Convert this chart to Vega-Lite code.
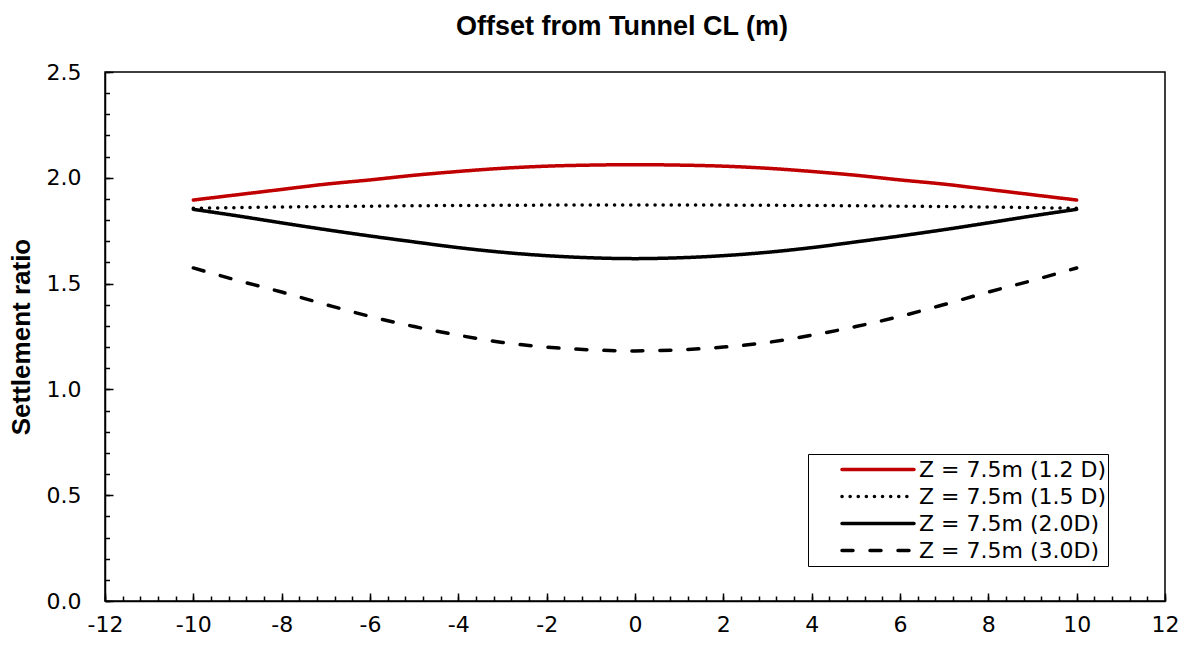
{
  "$schema": "https://vega.github.io/schema/vega-lite/v6.json",
  "width": 1060,
  "height": 529,
  "autosize": {"type": "none"},
  "padding": {"left": 105, "top": 72, "right": 24, "bottom": 45},
  "background": "white",
  "config": {"view": {"stroke": "black", "strokeWidth": 1.5}, "font": "Liberation Sans"},
  "title": {"text": "Offset from Tunnel CL (m)", "font": "Liberation Sans", "fontSize": 27, "fontWeight": "bold", "color": "black", "anchor": "middle", "frame": "group", "dx": -13, "baseline": "alphabetic", "offset": -1},
  "data": {"values": [
    {"series": "Z = 7.5m (1.2 D)", "x": -10, "y": 1.895},
    {"series": "Z = 7.5m (1.2 D)", "x": -9, "y": 1.920},
    {"series": "Z = 7.5m (1.2 D)", "x": -8, "y": 1.945},
    {"series": "Z = 7.5m (1.2 D)", "x": -7, "y": 1.970},
    {"series": "Z = 7.5m (1.2 D)", "x": -6, "y": 1.990},
    {"series": "Z = 7.5m (1.2 D)", "x": -5, "y": 2.012},
    {"series": "Z = 7.5m (1.2 D)", "x": -4, "y": 2.030},
    {"series": "Z = 7.5m (1.2 D)", "x": -3, "y": 2.045},
    {"series": "Z = 7.5m (1.2 D)", "x": -2, "y": 2.055},
    {"series": "Z = 7.5m (1.2 D)", "x": -1, "y": 2.060},
    {"series": "Z = 7.5m (1.2 D)", "x": 0, "y": 2.062},
    {"series": "Z = 7.5m (1.2 D)", "x": 1, "y": 2.060},
    {"series": "Z = 7.5m (1.2 D)", "x": 2, "y": 2.055},
    {"series": "Z = 7.5m (1.2 D)", "x": 3, "y": 2.045},
    {"series": "Z = 7.5m (1.2 D)", "x": 4, "y": 2.030},
    {"series": "Z = 7.5m (1.2 D)", "x": 5, "y": 2.012},
    {"series": "Z = 7.5m (1.2 D)", "x": 6, "y": 1.990},
    {"series": "Z = 7.5m (1.2 D)", "x": 7, "y": 1.970},
    {"series": "Z = 7.5m (1.2 D)", "x": 8, "y": 1.945},
    {"series": "Z = 7.5m (1.2 D)", "x": 9, "y": 1.920},
    {"series": "Z = 7.5m (1.2 D)", "x": 10, "y": 1.895},
    {"series": "Z = 7.5m (1.5 D)", "x": -10, "y": 1.856},
    {"series": "Z = 7.5m (1.5 D)", "x": -9, "y": 1.859},
    {"series": "Z = 7.5m (1.5 D)", "x": -8, "y": 1.862},
    {"series": "Z = 7.5m (1.5 D)", "x": -7, "y": 1.864},
    {"series": "Z = 7.5m (1.5 D)", "x": -6, "y": 1.866},
    {"series": "Z = 7.5m (1.5 D)", "x": -5, "y": 1.868},
    {"series": "Z = 7.5m (1.5 D)", "x": -4, "y": 1.869},
    {"series": "Z = 7.5m (1.5 D)", "x": -3, "y": 1.870},
    {"series": "Z = 7.5m (1.5 D)", "x": -2, "y": 1.871},
    {"series": "Z = 7.5m (1.5 D)", "x": -1, "y": 1.872},
    {"series": "Z = 7.5m (1.5 D)", "x": 0, "y": 1.872},
    {"series": "Z = 7.5m (1.5 D)", "x": 1, "y": 1.872},
    {"series": "Z = 7.5m (1.5 D)", "x": 2, "y": 1.871},
    {"series": "Z = 7.5m (1.5 D)", "x": 3, "y": 1.870},
    {"series": "Z = 7.5m (1.5 D)", "x": 4, "y": 1.869},
    {"series": "Z = 7.5m (1.5 D)", "x": 5, "y": 1.868},
    {"series": "Z = 7.5m (1.5 D)", "x": 6, "y": 1.866},
    {"series": "Z = 7.5m (1.5 D)", "x": 7, "y": 1.864},
    {"series": "Z = 7.5m (1.5 D)", "x": 8, "y": 1.862},
    {"series": "Z = 7.5m (1.5 D)", "x": 9, "y": 1.859},
    {"series": "Z = 7.5m (1.5 D)", "x": 10, "y": 1.856},
    {"series": "Z = 7.5m (2.0D)", "x": -10, "y": 1.851},
    {"series": "Z = 7.5m (2.0D)", "x": -9, "y": 1.820},
    {"series": "Z = 7.5m (2.0D)", "x": -8, "y": 1.787},
    {"series": "Z = 7.5m (2.0D)", "x": -7, "y": 1.755},
    {"series": "Z = 7.5m (2.0D)", "x": -6, "y": 1.725},
    {"series": "Z = 7.5m (2.0D)", "x": -5, "y": 1.697},
    {"series": "Z = 7.5m (2.0D)", "x": -4, "y": 1.670},
    {"series": "Z = 7.5m (2.0D)", "x": -3, "y": 1.648},
    {"series": "Z = 7.5m (2.0D)", "x": -2, "y": 1.632},
    {"series": "Z = 7.5m (2.0D)", "x": -1, "y": 1.622},
    {"series": "Z = 7.5m (2.0D)", "x": 0, "y": 1.618},
    {"series": "Z = 7.5m (2.0D)", "x": 1, "y": 1.622},
    {"series": "Z = 7.5m (2.0D)", "x": 2, "y": 1.632},
    {"series": "Z = 7.5m (2.0D)", "x": 3, "y": 1.648},
    {"series": "Z = 7.5m (2.0D)", "x": 4, "y": 1.670},
    {"series": "Z = 7.5m (2.0D)", "x": 5, "y": 1.697},
    {"series": "Z = 7.5m (2.0D)", "x": 6, "y": 1.725},
    {"series": "Z = 7.5m (2.0D)", "x": 7, "y": 1.755},
    {"series": "Z = 7.5m (2.0D)", "x": 8, "y": 1.787},
    {"series": "Z = 7.5m (2.0D)", "x": 9, "y": 1.820},
    {"series": "Z = 7.5m (2.0D)", "x": 10, "y": 1.851},
    {"series": "Z = 7.5m (3.0D)", "x": -10, "y": 1.574},
    {"series": "Z = 7.5m (3.0D)", "x": -9, "y": 1.515},
    {"series": "Z = 7.5m (3.0D)", "x": -8, "y": 1.460},
    {"series": "Z = 7.5m (3.0D)", "x": -7, "y": 1.401},
    {"series": "Z = 7.5m (3.0D)", "x": -6, "y": 1.345},
    {"series": "Z = 7.5m (3.0D)", "x": -5, "y": 1.297},
    {"series": "Z = 7.5m (3.0D)", "x": -4, "y": 1.256},
    {"series": "Z = 7.5m (3.0D)", "x": -3, "y": 1.222},
    {"series": "Z = 7.5m (3.0D)", "x": -2, "y": 1.200},
    {"series": "Z = 7.5m (3.0D)", "x": -1, "y": 1.187},
    {"series": "Z = 7.5m (3.0D)", "x": 0, "y": 1.182},
    {"series": "Z = 7.5m (3.0D)", "x": 1, "y": 1.187},
    {"series": "Z = 7.5m (3.0D)", "x": 2, "y": 1.200},
    {"series": "Z = 7.5m (3.0D)", "x": 3, "y": 1.222},
    {"series": "Z = 7.5m (3.0D)", "x": 4, "y": 1.256},
    {"series": "Z = 7.5m (3.0D)", "x": 5, "y": 1.297},
    {"series": "Z = 7.5m (3.0D)", "x": 6, "y": 1.345},
    {"series": "Z = 7.5m (3.0D)", "x": 7, "y": 1.401},
    {"series": "Z = 7.5m (3.0D)", "x": 8, "y": 1.460},
    {"series": "Z = 7.5m (3.0D)", "x": 9, "y": 1.515},
    {"series": "Z = 7.5m (3.0D)", "x": 10, "y": 1.574}
  ]},
  "layer": [
    {
      "mark": {"type": "line", "strokeWidth": 3.5, "strokeCap": "round", "interpolate": "monotone"},
      "encoding": {
        "x": {"field": "x", "type": "quantitative",
          "scale": {"domain": [-12, 12], "nice": false, "zero": false},
          "axis": {"orient": "bottom", "values": [-12, -10, -8, -6, -4, -2, 0, 2, 4, 6, 8, 10, 12], "labelExpr": "toString(datum.value)",
            "tickSize": -8, "tickWidth": 1.5, "tickColor": "black", "domainColor": "black", "domainWidth": 1.5,
            "labelFont": "DejaVu Sans", "labelFontSize": 22, "labelColor": "black", "labelPadding": 21,
            "labelFlush": false, "labelOverlap": false, "grid": false, "title": null}},
        "y": {"field": "y", "type": "quantitative",
          "scale": {"domain": [0, 2.5], "nice": false, "zero": false},
          "axis": {"orient": "left", "values": [0, 0.5, 1, 1.5, 2, 2.5], "format": ".1f",
            "tickSize": -8, "tickWidth": 1.5, "tickColor": "black", "domainColor": "black", "domainWidth": 1.5,
            "labelFont": "DejaVu Sans", "labelFontSize": 22, "labelColor": "black", "labelPadding": 32,
            "labelFlush": false, "labelOverlap": false, "grid": false,
            "title": "Settlement ratio", "titleFont": "Liberation Sans", "titleFontSize": 26, "titleFontWeight": "bold", "titleColor": "black", "titlePadding": 12}},
        "color": {"field": "series", "type": "nominal",
          "scale": {"domain": ["Z = 7.5m (1.2 D)", "Z = 7.5m (1.5 D)", "Z = 7.5m (2.0D)", "Z = 7.5m (3.0D)"], "range": ["#C00000", "#000000", "#000000", "#000000"]},
          "legend": {"orient": "none", "legendX": 703, "legendY": 382, "title": null, "strokeColor": "black", "fillColor": "white", "padding": 2,
            "symbolType": "stroke", "symbolSize": 5184, "symbolStrokeWidth": 3.5, "clipHeight": 27, "rowPadding": 0, "symbolOffset": 30,
            "labelFont": "DejaVu Sans", "labelFontSize": 22, "labelColor": "black", "labelOffset": 3, "labelLimit": 400,
            "encode": {"symbols": {"update": {"strokeCap": {"value": "round"}}}, "legend": {"update": {"width": {"value": 334}}}}}},
        "strokeDash": {"field": "series", "type": "nominal",
          "scale": {"domain": ["Z = 7.5m (1.2 D)", "Z = 7.5m (1.5 D)", "Z = 7.5m (2.0D)", "Z = 7.5m (3.0D)"], "range": [[1, 0], [0.1, 8], [1, 0], [11, 17]]},
          "legend": {"orient": "none", "legendX": 703, "legendY": 382, "title": null, "strokeColor": "black", "fillColor": "white", "padding": 2,
            "symbolType": "stroke", "symbolSize": 5184, "symbolStrokeWidth": 3.5, "clipHeight": 27, "rowPadding": 0, "symbolOffset": 30,
            "labelFont": "DejaVu Sans", "labelFontSize": 22, "labelColor": "black", "labelOffset": 3, "labelLimit": 400,
            "encode": {"symbols": {"update": {"strokeCap": {"value": "round"}}}, "legend": {"update": {"width": {"value": 334}}}}}}
      }
    },
    {
      "mark": {"type": "point", "opacity": 0},
      "encoding": {
        "x": {"field": "x", "type": "quantitative",
          "axis": {"orient": "bottom", "values": [-12, -11.6, -11.2, -10.8, -10.4, -10, -9.6, -9.2, -8.8, -8.4, -8, -7.6, -7.2, -6.8, -6.4, -6, -5.6, -5.2, -4.8, -4.4, -4, -3.6, -3.2, -2.8, -2.4, -2, -1.6, -1.2, -0.8, -0.4, 0, 0.4, 0.8, 1.2, 1.6, 2, 2.4, 2.8, 3.2, 3.6, 4, 4.4, 4.8, 5.2, 5.6, 6, 6.4, 6.8, 7.2, 7.6, 8, 8.4, 8.8, 9.2, 9.6, 10, 10.4, 10.8, 11.2, 11.6, 12],
            "tickSize": -5, "tickWidth": 1.5, "tickColor": "black", "domain": false, "labels": false, "grid": false, "title": null}},
        "y": {"field": "y", "type": "quantitative",
          "axis": {"orient": "left", "values": [0, 0.1, 0.2, 0.3, 0.4, 0.5, 0.6, 0.7, 0.8, 0.9, 1, 1.1, 1.2, 1.3, 1.4, 1.5, 1.6, 1.7, 1.8, 1.9, 2, 2.1, 2.2, 2.3, 2.4, 2.5],
            "tickSize": -4.5, "tickWidth": 1.5, "tickColor": "black", "domain": false, "labels": false, "grid": false, "title": null}}
      }
    }
  ],
  "resolve": {"axis": {"x": "independent", "y": "independent"}}
}
